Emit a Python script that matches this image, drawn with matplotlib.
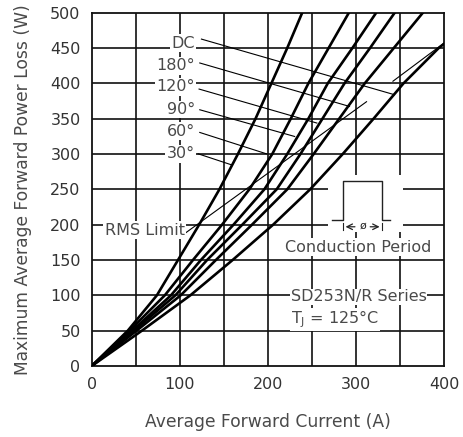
import matplotlib
matplotlib.use('Agg')
import matplotlib.pyplot as plt

plt.rcParams['font.family'] = ['DejaVu Sans']

# ---- data ----
loss_levels = [0, 50, 100, 150, 200, 250, 300, 350, 400, 450, 500]
i_30 = [0, 41, 74, 98, 122, 145, 166, 186, 204, 222, 239]
i_60 = [0, 43, 83, 115, 148, 179, 205, 226, 246, 269, 292]
i_90 = [0, 46, 90, 124, 161, 196, 222, 246, 268, 296, 323]
i_120 = [0, 48, 95, 131, 171, 210, 237, 262, 287, 316, 344]
i_180 = [0, 51, 101, 141, 182, 222, 252, 281, 310, 343, 376]
dc_loss = [0, 50, 100, 150, 200, 250, 300, 350, 400, 450, 456]
i_dc = [0, 57, 112, 160, 206, 248, 285, 320, 354, 394, 400]

curve_labels = ['DC', '180°', '120°', '90°', '60°', '30°']
label_y = [457, 425, 395, 363, 332, 300]
# leader line: label end -> point on the curve
leader_start = [(124.6, 462.6), (122.7, 428.8), (121.9, 391.9), (122.7, 362.6), (122.7, 330.5), (120.8, 300.3)]
leader_end = [(343.7, 383.9), (292.7, 367.3), (255.6, 343.8), (230.4, 324.8), (198.3, 300.3), (158.6, 284.7)]

rms_x1 = [104, 312]
rms_y1 = [186, 374]
rms_x2 = [342, 400]
rms_y2 = [403, 457]

x_ticks = [0, 100, 200, 300, 400]
y_ticks = [0, 50, 100, 150, 200, 250, 300, 350, 400, 450, 500]

TXT = '#4a4a4a'

fig = plt.figure(figsize=(4.64, 4.37), dpi=100)
ax = fig.add_axes([0.1976, 0.1625, 0.7594, 0.8085])

# сетка
for gx in range(50, 400, 50):
    ax.axvline(gx, color='#111111', lw=1.2, zorder=1)
for gy in range(50, 500, 50):
    ax.axhline(gy, color='#111111', lw=1.2, zorder=1)

# кривые потерь
for xs, ys in [(i_30, loss_levels), (i_60, loss_levels), (i_90, loss_levels),
               (i_120, loss_levels), (i_180, loss_levels), (i_dc, dc_loss)]:
    ax.plot(xs, ys, color='black', lw=1.9, zorder=4, solid_capstyle='round',
            solid_joinstyle='round')

# RMS limit
ax.plot(rms_x1, rms_y1, color='black', lw=0.8, zorder=4)
ax.plot(rms_x2, rms_y2, color='black', lw=0.8, zorder=4)

# подписи кривых с выносками
box = dict(facecolor='white', edgecolor='none', pad=1.0)
for lab, ly, (sx, sy), (ex, ey) in zip(curve_labels, label_y, leader_start, leader_end):
    ax.plot([sx, ex], [sy, ey], color='black', lw=0.8, zorder=3)
    ax.text(117, ly, lab, ha='right', va='center', fontsize=11.5, color=TXT,
            bbox=box, zorder=5)

ax.text(15, 192, 'RMS Limit', ha='left', va='center', fontsize=11.5, color=TXT,
        bbox=box, zorder=5)

# символ периода проводимости
ax.add_patch(plt.Rectangle((268, 190), 85, 80, facecolor='white', edgecolor='none', zorder=2))
ax.plot([273, 285, 285, 330, 330, 339], [206, 206, 262, 262, 206, 206], color='#222222', lw=1.0, zorder=5)
ax.annotate('', xy=(285, 197), xytext=(302, 197),
            arrowprops=dict(arrowstyle='->', color='#222222', lw=0.9), zorder=5)
ax.annotate('', xy=(330, 197), xytext=(313, 197),
            arrowprops=dict(arrowstyle='->', color='#222222', lw=0.9), zorder=5)
ax.text(307.5, 198, 'ø', ha='center', va='center', fontsize=8, color='#222222', zorder=5)
ax.plot([285, 285], [192, 202], color='#222222', lw=0.8, zorder=5)
ax.plot([330, 330], [192, 202], color='#222222', lw=0.8, zorder=5)

ax.text(302, 168, 'Conduction Period', ha='center', va='center', fontsize=11.5,
        color=TXT, bbox=box, zorder=5)
ax.text(226, 98, 'SD253N/R Series', ha='left', va='center', fontsize=11.5,
        color=TXT, bbox=dict(facecolor='white', edgecolor='none', pad=0.5), zorder=5)
ax.text(226, 66, r'T$_\mathregular{J}$ = 125°C', ha='left', va='center', fontsize=11.5,
        color=TXT, bbox=dict(facecolor='white', edgecolor='none', pad=0.5), zorder=5)

ax.set_xlim(0, 400)
ax.set_ylim(0, 500)
ax.set_xticks(x_ticks)
ax.set_yticks(y_ticks)
ax.tick_params(length=0, labelsize=11.5, labelcolor='#333333', pad=8)
for s in ax.spines.values():
    s.set_linewidth(1.3)
    s.set_color('#111111')

ax.set_xlabel('Average Forward Current (A)', fontsize=12.3, color=TXT, labelpad=15)
ax.set_ylabel('Maximum Average Forward Power Loss (W)', fontsize=12.3, color=TXT, labelpad=13)

fig.savefig('out.png', dpi=100)
